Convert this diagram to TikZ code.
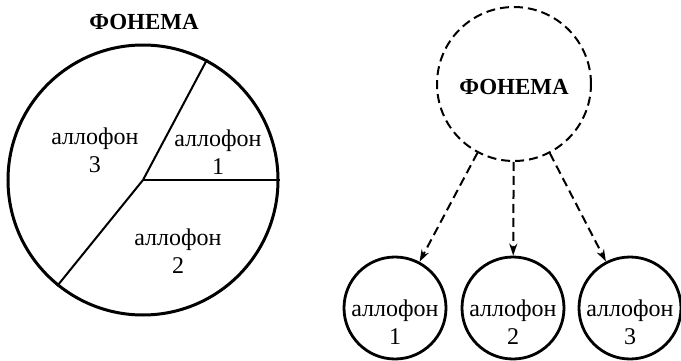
\documentclass[tikz,border=0pt]{standalone}
\usepackage{fontspec}
\setmainfont{Liberation Serif}
\usetikzlibrary{arrows.meta}
\begin{document}
\begin{tikzpicture}[x=1pt,y=1pt,
  lbl/.style={align=center,inner sep=0pt,font=\fontsize{24}{28}\selectfont},
  ttl/.style={inner sep=0pt,font=\fontsize{23}{26}\selectfont\bfseries},
  bigc/.style={circle,draw,line width=3pt,minimum size=270pt,inner sep=0pt},
  smallc/.style={circle,draw,line width=2.8pt,minimum size=102pt,inner sep=0pt},
  dashc/.style={circle,draw,line width=2pt,dash pattern=on 9pt off 5pt,minimum size=154pt,inner sep=0pt},
  conn/.style={line width=2pt,dash pattern=on 9pt off 5pt,-{Stealth[length=12pt,width=8pt]}}]
\useasboundingbox (0,0) rectangle (681,360);
% left: pie
\node[ttl] (t0) at (144,338) {ФОНЕМА};
\node[bigc] (P) at (143,180) {};
\draw[line width=2pt] (P.center) -- (P.0);
\draw[line width=2pt] (P.center) -- (P.62);
\draw[line width=2pt] (P.center) -- (P.231);
\node[lbl] (l3) at (95,210) {аллофон\\3};
\node[lbl] (l1) at (218,208) {аллофон\\1};
\node[lbl] (l2) at (178,109) {аллофон\\2};
% right: tree
\node[dashc] (F) at (514,276) {};
\node[ttl] (tF) at (514,273) {ФОНЕМА};
\node[smallc] (a1) at (395,52) {};
\node[smallc] (a2) at (513,52) {};
\node[smallc] (a3) at (630,52) {};
\node[lbl] (s1) at (395,38) {аллофон\\1};
\node[lbl] (s2) at (513,38) {аллофон\\2};
\node[lbl] (s3) at (630,38) {аллофон\\3};
\draw[conn] (F) -- (a1);
\draw[conn] (F) -- (a2);
\draw[conn] (F) -- (a3);
\end{tikzpicture}
\end{document}
